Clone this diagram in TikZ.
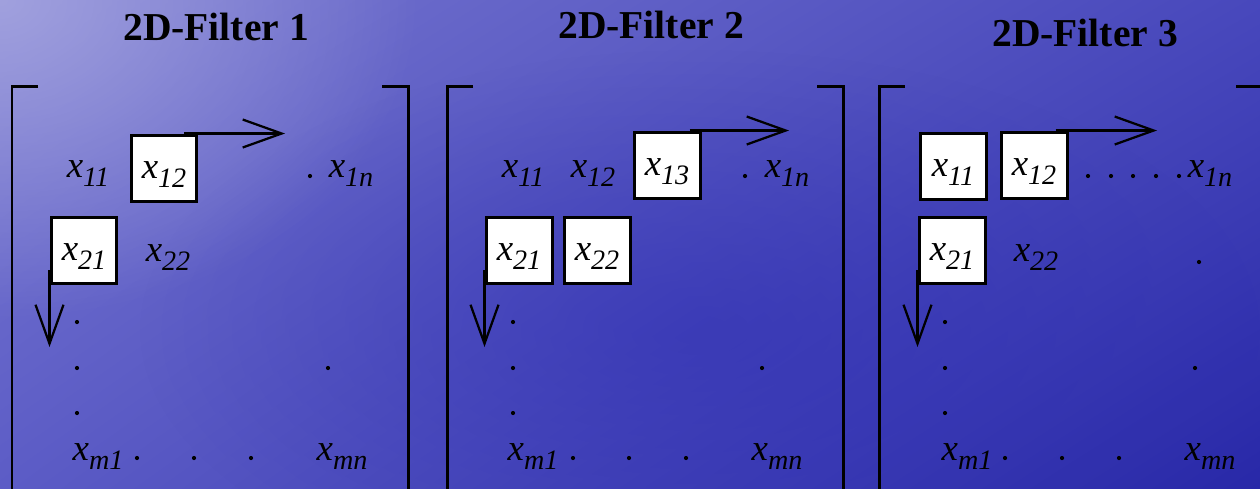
\documentclass[tikz,border=0pt]{standalone}
\usepackage{fontspec}
\setmainfont{Liberation Serif}
\usetikzlibrary{arrows.meta,fadings,shadings}
\definecolor{seaUL}{RGB}{120,120,208}
\definecolor{seaUR}{RGB}{72,72,188}
\definecolor{seaLL}{RGB}{92,92,198}
\definecolor{seaLR}{RGB}{40,40,168}
\definecolor{seaMid}{RGB}{48,48,180}
\definecolor{seaGlow}{RGB}{178,178,228}
\tikzfading[name=glow, inner color=transparent!0, outer color=transparent!100]
\newcommand{\elm}[1]{x\raisebox{-0.25em}{\fontsize{16}{18}\selectfont #1}}
\tikzset{
  ttl/.style={font=\fontsize{22.5}{26}\selectfont\bfseries, inner sep=0pt},
  ent/.style={font=\fontsize{21}{25}\selectfont\itshape, inner sep=0pt, anchor=base},
  cell/.style={draw, line width=0.06cm, fill=white, minimum size=1.32cm, inner sep=0pt,
    text height=0.42cm, text depth=0pt, font=\fontsize{21}{25}\selectfont\itshape},
  brk/.style={line width=0.06cm},
  arr/.style={line width=0.045cm, -{Straight Barb[length=0.78cm,width=0.56cm]}}
}
\begin{document}
\begin{tikzpicture}[x=0.02cm, y=-0.02cm]
    \useasboundingbox (0,0) rectangle (1260,488);
    \clip (0,0) rectangle (1260,488);
    % sea background
    \shade[upper left=seaUL, upper right=seaUR, lower left=seaLL, lower right=seaLR] (0,0) rectangle (1260,488);
    \fill[seaMid, opacity=0.55, path fading=glow] (700,330) ellipse (560 and 280);
    \fill[seaGlow, opacity=0.7, path fading=glow] (0,0) ellipse (420 and 320);

    % brackets
    \foreach \l/\r in {12/408, 447/843, 879/1262}
      {
        \draw[brk] (\l+26,86) -- (\l,86) -- (\l,492);
        \draw[brk] (\r-26,86) -- (\r,86) -- (\r,492);
      }

    % 2D-Filter 1
    \node[ttl] (f1t) at (216,27) {2D-Filter 1};
    \node[ent] (f1x11) at (88,177) {\elm{11}};
    \node[cell] (f1b12) at (164,168) {\elm{12}};
    \node[ent] (f1x1n) at (351,177) {\elm{1n}};
    \node[cell] (f1b21) at (84,250) {\elm{21}};
    \node[ent] (f1x22) at (168,261) {\elm{22}};
    \node[ent] (f1xm1) at (98,460) {\elm{m1}};
    \node[ent] (f1xmn) at (342,460) {\elm{mn}};
    \foreach \p in {(310,176), (77,322), (77,368), (77,413), (328,368), (137,458), (194,458), (251,458)}
      \fill \p circle (0.042cm);
    \coordinate (f1r) at (285,133);
    \coordinate (f1d) at (50,347);
    \draw[arr] ([xshift=-0.28cm]f1b12.north east) -- (f1b12.north east -| f1r);
    \draw[arr] ([yshift=-0.4cm]f1b21.west) -- (f1b21.west |- f1d);

    % 2D-Filter 2
    \node[ttl] (f2t) at (651,25) {2D-Filter 2};
    \node[ent] (f2x11) at (523,177) {\elm{11}};
    \node[ent] (f2x12) at (593,177) {\elm{12}};
    \node[cell] (f2b13) at (667,165) {\elm{13}};
    \node[ent] (f2x1n) at (787,177) {\elm{1n}};
    \node[cell] (f2b21) at (519,250) {\elm{21}};
    \node[cell] (f2b22) at (597,250) {\elm{22}};
    \node[ent] (f2xm1) at (533,460) {\elm{m1}};
    \node[ent] (f2xmn) at (777,460) {\elm{mn}};
    \foreach \p in {(745,176), (513,322), (513,368), (513,413), (762,368), (573,458), (629,458), (686,458)}
      \fill \p circle (0.042cm);
    \coordinate (f2r) at (789,131);
    \coordinate (f2d) at (485,347);
    \draw[arr] ([xshift=-0.24cm]f2b13.north east) -- (f2b13.north east -| f2r);
    \draw[arr] ([yshift=-0.4cm]f2b21.west) -- (f2b21.west |- f2d);

    % 2D-Filter 3
    \node[ttl] (f3t) at (1085,33) {2D-Filter 3};
    \node[cell] (f3b11) at (953,166) {\elm{11}};
    \node[cell] (f3b12) at (1034,165) {\elm{12}};
    \node[ent] (f3x1n) at (1210,177) {\elm{1n}};
    \node[cell] (f3b21) at (952,250) {\elm{21}};
    \node[ent] (f3x22) at (1036,261) {\elm{22}};
    \node[ent] (f3xm1) at (967,460) {\elm{m1}};
    \node[ent] (f3xmn) at (1210,460) {\elm{mn}};
    \foreach \p in {(1088,176), (1111,176), (1133,176), (1156,176), (1179,176), (1199,262),
                    (945,322), (945,368), (945,413), (1195,368), (1005,458), (1062,458), (1119,458)}
      \fill \p circle (0.042cm);
    \coordinate (f3r) at (1157,131);
    \coordinate (f3d) at (918,347);
    \draw[arr] ([xshift=-0.26cm]f3b12.north east) -- (f3b12.north east -| f3r);
    \draw[arr] ([yshift=-0.4cm]f3b21.west) -- (f3b21.west |- f3d);
\end{tikzpicture}
\end{document}
